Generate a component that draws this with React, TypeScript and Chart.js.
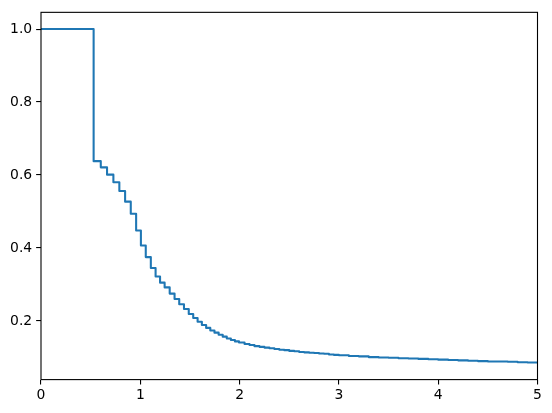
import React, { useEffect, useRef } from "react";
import { Chart, registerables } from "chart.js";

Chart.register(...registerables);

const stepX = [0, 0.53, 0.602, 0.665, 0.729, 0.789, 0.847, 0.904, 0.958, 1.006, 1.055, 1.106, 1.154, 1.199, 1.245, 1.296, 1.345, 1.392, 1.44, 1.488, 1.533, 1.577, 1.62, 1.663, 1.705, 1.747, 1.789, 1.83, 1.871, 1.912, 1.953, 1.994, 2.05, 2.1, 2.15, 2.2, 2.25, 2.3, 2.35, 2.4, 2.45, 2.5, 2.55, 2.6, 2.65, 2.7, 2.75, 2.8, 2.85, 2.9, 2.95, 3.0, 3.1, 3.2, 3.3, 3.4, 3.5, 3.6, 3.7, 3.8, 3.9, 4.0, 4.1, 4.2, 4.3, 4.4, 4.5, 4.6, 4.7, 4.8, 4.9, 5.0];
const stepY = [1.0, 0.638, 0.621, 0.601, 0.58, 0.556, 0.527, 0.494, 0.448, 0.407, 0.375, 0.345, 0.322, 0.305, 0.292, 0.275, 0.26, 0.246, 0.233, 0.219, 0.208, 0.198, 0.189, 0.181, 0.174, 0.168, 0.162, 0.157, 0.152, 0.148, 0.144, 0.141, 0.137, 0.134, 0.131, 0.129, 0.127, 0.125, 0.123, 0.121, 0.12, 0.118, 0.117, 0.115, 0.114, 0.113, 0.112, 0.111, 0.11, 0.108, 0.107, 0.106, 0.104, 0.103, 0.101, 0.1, 0.099, 0.098, 0.097, 0.096, 0.095, 0.094, 0.093, 0.092, 0.091, 0.09, 0.089, 0.089, 0.088, 0.087, 0.086, 0.085];

const xTicks = [0, 1, 2, 3, 4, 5];
const yTicks = [0.2, 0.4, 0.6, 0.8, 1.0];

const FONT = { family: "'DejaVu Sans', sans-serif", size: 13.9 };

const framePlugin = {
  id: "frame",
  afterDraw(chart: any) {
    const { ctx, chartArea } = chart;
    ctx.save();
    ctx.strokeStyle = "#000";
    ctx.lineWidth = 1.1;
    ctx.strokeRect(chartArea.left, chartArea.top, chartArea.right - chartArea.left, chartArea.bottom - chartArea.top);
    ctx.restore();
  },
};

export default function App() {
  const ref = useRef<HTMLCanvasElement>(null);
  useEffect(() => {
    document.body.style.margin = "0";
    const data = stepX.map((x, i) => ({ x, y: stepY[i] }));
    const chart = new Chart(ref.current!, {
      type: "line",
      data: {
        datasets: [
          {
            data,
            borderColor: "#1f77b4",
            borderWidth: 2.08,
            pointRadius: 0,
            stepped: "before",
            fill: false,
            borderJoinStyle: "round",
          },
        ],
      },
      options: {
        animation: false,
        responsive: false,
        devicePixelRatio: 1,
        layout: { padding: { left: 0, right: 14.5, top: 10, bottom: 0 } },
        plugins: { legend: { display: false }, tooltip: { enabled: false } },
        scales: {
          x: {
            type: "linear",
            min: 0,
            max: 5,
            afterBuildTicks: (s: any) => {
              s.ticks = xTicks.map((v) => ({ value: v }));
            },
            afterFit: (s: any) => {
              s.height = 33.4;
            },
            grid: { drawOnChartArea: false, drawTicks: true, tickLength: 4.86, color: "#000", lineWidth: 1.1 },
            border: { display: false },
            ticks: { color: "#000", font: FONT, padding: 3, maxRotation: 0, callback: (v: any) => String(v) },
          },
          y: {
            type: "linear",
            min: 0.0393,
            max: 1.0458,
            afterBuildTicks: (s: any) => {
              s.ticks = yTicks.map((v) => ({ value: v }));
            },
            afterFit: (s: any) => {
              s.width = 41;
            },
            grid: { drawOnChartArea: false, drawTicks: true, tickLength: 4.86, color: "#000", lineWidth: 1.1 },
            border: { display: false },
            ticks: { color: "#000", font: FONT, padding: 4, callback: (v: any) => Number(v).toFixed(1) },
          },
        },
      },
      plugins: [framePlugin],
    });
    return () => chart.destroy();
  }, []);
  return <canvas ref={ref} width={552} height={413} style={{ display: "block" }} />;
}
